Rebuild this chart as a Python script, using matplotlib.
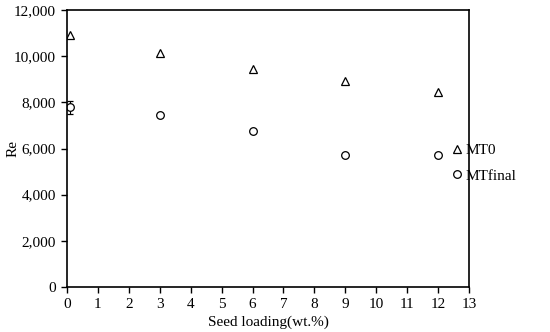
import matplotlib
matplotlib.use("Agg")
import matplotlib.pyplot as plt
from matplotlib.ticker import FuncFormatter, MultipleLocator
from matplotlib.lines import Line2D

plt.rcParams['font.family'] = ['Liberation Serif', 'DejaVu Serif']

x_mt0 = [0.1, 3, 6, 9, 12]
mt0 = [10920, 10140, 9460, 8920, 8450]
x_mtf = [0.1, 3, 6, 9, 12]
mtfinal = [7780, 7440, 6740, 5720, 5720]
mtfinal_err = [280, 60, 60, 40, 40]

fig = plt.figure(figsize=(5.5, 3.32), dpi=100)
ax = fig.add_axes([67/550, 1-287/332, (469-67)/550, (287-10)/332])

ax.plot(x_mt0, mt0, linestyle='none', marker='^', markersize=5.5,
        markerfacecolor='white', markeredgecolor='black', markeredgewidth=0.9)
ax.errorbar(x_mtf, mtfinal, yerr=mtfinal_err, linestyle='none', marker='o', markersize=5.5,
            markerfacecolor='white', markeredgecolor='black', markeredgewidth=0.9,
            ecolor='black', elinewidth=0.8, capsize=2.5, capthick=0.8)

ax.set_xlim(0, 13)
ax.set_ylim(0, 12000)
ax.xaxis.set_major_locator(MultipleLocator(1))
ax.yaxis.set_major_locator(MultipleLocator(2000))
ax.yaxis.set_major_formatter(FuncFormatter(lambda v, p: f"{int(v):,}"))
ax.tick_params(direction='out', length=4, width=1, labelsize=11, colors='black', pad=4)
for s in ax.spines.values():
    s.set_linewidth(1.2)
ax.set_xlabel('Seed loading(wt.%)', fontsize=11, labelpad=3)
ax.set_ylabel('Re', fontsize=11)
ax.yaxis.set_label_coords(-47/402, 0.5)

handles = [
    Line2D([], [], linestyle='none', marker='^', markersize=5.5, markerfacecolor='white',
           markeredgecolor='black', markeredgewidth=0.9),
    Line2D([], [], linestyle='none', marker='o', markersize=5.5, markerfacecolor='white',
           markeredgecolor='black', markeredgewidth=0.9),
]
fig.legend(handles, ['MT0', 'MTfinal'], loc='center left', bbox_to_anchor=(447/550, 1-163/332),
           frameon=False, fontsize=11, handlelength=0.5, handletextpad=0.3,
           labelspacing=0.8, borderaxespad=0)

fig.savefig('out.png', dpi=100)
